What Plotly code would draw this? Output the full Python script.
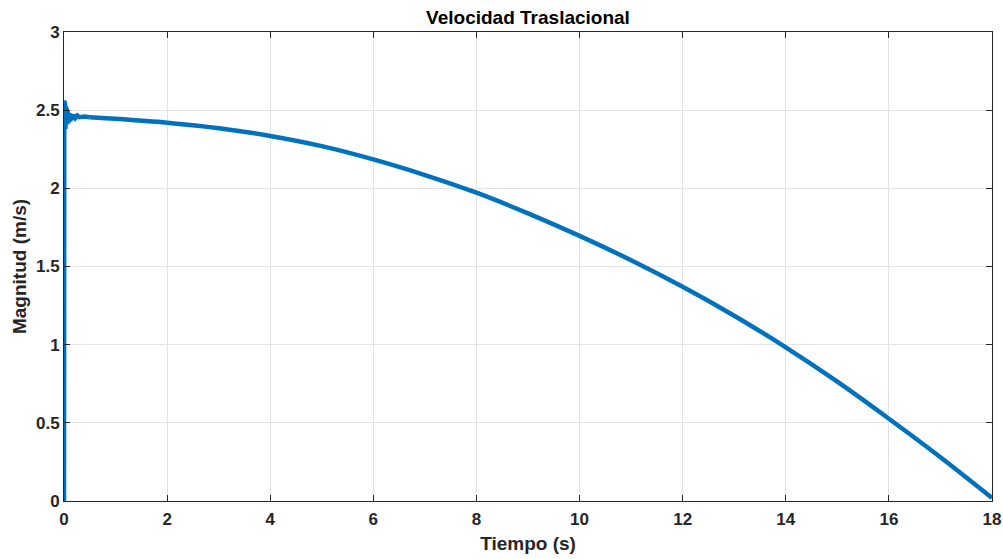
import plotly.graph_objects as go

# Time (s) and translational velocity magnitude (m/s)
# start-up transient
t_start = [0, 0.005, 0.012, 0.02, 0.028, 0.036, 0.045, 0.055, 0.065, 0.075,
           0.09, 0.105, 0.12, 0.14, 0.16, 0.19, 0.22, 0.26, 0.3, 0.4, 0.5]
v_start = [0, 2.56, 2.36, 2.54, 2.38, 2.52, 2.40, 2.50, 2.41, 2.49,
           2.42, 2.48, 2.43, 2.475, 2.44, 2.47, 2.45, 2.465, 2.455, 2.46, 2.455]
# main run
t_main = [0.5, 1, 2, 3, 4, 5, 6, 7, 8, 9, 10, 11, 12, 13, 14, 15, 16, 17, 18]
v_main = [2.455, 2.445, 2.42, 2.385, 2.335, 2.27, 2.185, 2.085, 1.972, 1.84,
          1.696, 1.54, 1.37, 1.185, 0.983, 0.763, 0.526, 0.28, 0.02]

x_ticks = [0, 2, 4, 6, 8, 10, 12, 14, 16, 18]
y_ticks = [0, 0.5, 1, 1.5, 2, 2.5, 3]
y_labels = ["0", "0.5", "1", "1.5", "2", "2.5", "3"]

fig = go.Figure()
fig.add_trace(go.Scatter(x=t_start, y=v_start, mode="lines",
                         line=dict(color="#0072BD", width=4.5),
                         showlegend=False))
fig.add_trace(go.Scatter(x=t_main, y=v_main, mode="lines",
                         line=dict(color="#0072BD", width=4.5, shape="spline",
                                   smoothing=0.8),
                         showlegend=False))

axis_common = dict(
    showline=True, linecolor="#262626", linewidth=1, mirror="allticks",
    ticks="inside", ticklen=6, tickcolor="#262626",
    showgrid=True, gridcolor="#e3e3e3", gridwidth=1, zeroline=False,
    automargin=False,
    tickfont=dict(family="Liberation Sans, Arial", size=17, color="#262626"),
)

fig.update_layout(
    width=1003, height=559,
    margin=dict(l=64, r=11, t=32, b=58),
    paper_bgcolor="white", plot_bgcolor="white",
    font=dict(family="Liberation Sans, Arial", color="#000000"),
    title=dict(text="<b>Velocidad Traslacional</b>", x=0.5, xref="paper",
               xanchor="center", y=1 - 17 / 559, yanchor="middle",
               font=dict(size=19, color="#000000")),
    xaxis=dict(range=[0, 18], tickvals=x_ticks,
               ticktext=[f"<b>{x}</b>" for x in x_ticks],
               ticklabelstandoff=3,
               title=dict(text="<b>Tiempo (s)</b>", standoff=8,
                          font=dict(size=19, color="#262626")),
               **axis_common),
    yaxis=dict(range=[0, 3], tickvals=y_ticks,
               ticktext=[f"<b>{s}</b>" for s in y_labels],
               title=dict(text="<b>Magnitud (m/s)</b>", standoff=4,
                          font=dict(size=19, color="#262626")),
               **axis_common),
)

fig.write_html("out.html")
